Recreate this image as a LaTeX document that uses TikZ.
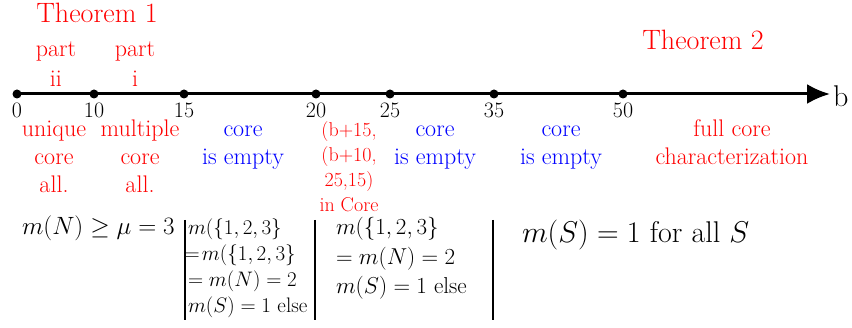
\RequirePackage{fix-cm}
\documentclass[tikz,border=0pt]{standalone}
\usepackage{amsmath}
\usetikzlibrary{arrows.meta}
\newcommand\myfs[2]{\fontsize{#1}{#2}\selectfont}
\begin{document}
\begin{tikzpicture}[x=1pt,y=-1pt,
  txt/.style={inner sep=0pt, outer sep=0pt, anchor=base, align=center},
  red/.style={txt, text=red},
  blu/.style={txt, text=blue},
  lab/.style={font=\myfs{24}{28}},
  tick/.style={txt, font=\myfs{22}{22}},
  dot/.style={circle, fill=black, inner sep=0pt, minimum size=9pt},
  axis/.style={line width=3pt, -{Latex[length=23pt,width=20pt]}},
  bar/.style={line width=1.2pt}]
\useasboundingbox (0,0) rectangle (852,328);
% axis
\coordinate (ax0) at (17,94);
\coordinate (ax1) at (830,94);
\draw[axis] (ax0) -- (ax1);
\node[txt, anchor=base west, font=\myfs{30}{30}] (b) at (833,107) {b};
% dots and ticks
\foreach \v/\x in {0/17,10/94,15/184,20/316,25/390,35/494,50/623}{
  \node[dot] (d\v) at (\x,94) {};
  \node[tick] (t\v) at (\x,118) {\v};
}
% top labels (anchor = baseline of last line)
\node[red, font=\myfs{28}{28}] (th1) at (97,23) {Theorem 1};
\node[red, font=\myfs{24}{30}] (p2) at (56,87) {part\\ii};
\node[red, font=\myfs{24}{30}] (p1) at (135,87) {part\\i};
\node[red, font=\myfs{28}{28}] (th2) at (703,50) {Theorem 2};
% below labels
\node[red, lab] (l1) at (54,193) {unique\\core\\all.};
\node[red, lab] (l2) at (140,193) {multiple\\core\\all.};
\node[blu, lab] (l3) at (243,165) {core\\is empty};
\node[red, font=\myfs{20}{25}] (l4) at (349,212) {(b+15,\\(b+10,\\25,15)\\in Core};
\node[blu, lab] (l5) at (435,165) {core\\is empty};
\node[blu, lab] (l6) at (561,165) {core\\is empty};
\node[red, lab] (l7) at (732,165) {full core\\characterization};
% bottom row
\node[txt, anchor=base west, font=\myfs{25}{25}] (c1) at (22,235) {$m(N)\geq\mu=3$};
\node[txt, anchor=base west, align=left, font=\myfs{21}{26}] (c2) at (188,313)
  {$m(\{1,2,3\}$\\$\!=\!m(\{1,2,3\}$\\$=m(N)=2$\\$m(S)=1$ else};
\node[txt, anchor=base west, align=left, font=\myfs{23}{29.5}] (c3) at (336,294)
  {$m(\{1,2,3\}$\\$=m(N)=2$\\$m(S)=1$ else};
\node[txt, anchor=base west, font=\myfs{30}{30}] (c4) at (522,243) {$m(S)=1$ for all $S$};
\coordinate (b1t) at (185,220); \coordinate (b1b) at (185,320);
\coordinate (b2t) at (315,220); \coordinate (b2b) at (315,320);
\coordinate (b3t) at (493,220); \coordinate (b3b) at (493,320);
\draw[bar] (b1t) -- (b1b);
\draw[bar] (b2t) -- (b2b);
\draw[bar] (b3t) -- (b3b);
\end{tikzpicture}
\end{document}
